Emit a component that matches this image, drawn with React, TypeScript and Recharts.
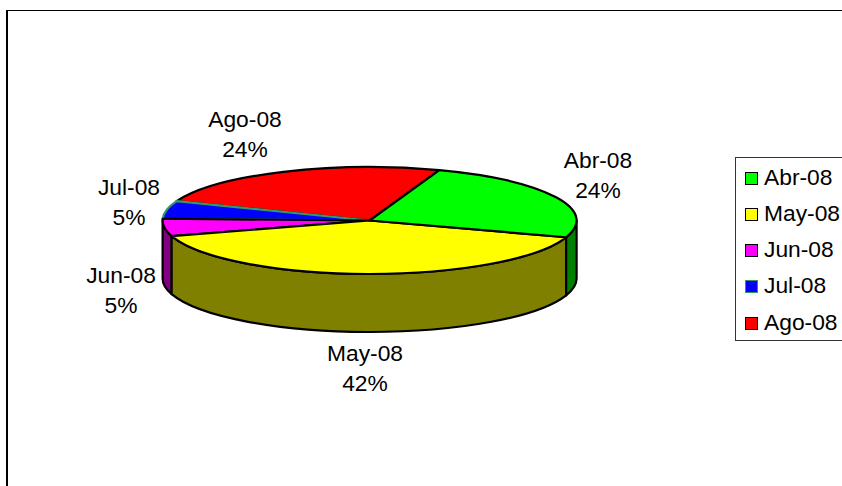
import React from 'react';
import { PieChart, Pie, Legend } from 'recharts';

const months = ['Abr-08', 'May-08', 'Jun-08', 'Jul-08', 'Ago-08'];
// printed percentages
const percentLabels = ['24%', '42%', '5%', '5%', '24%'];
// shares read from the drawn arcs (May is drawn a bit narrower than its 42% label)
const drawnShares = [24.6, 40.2, 5.25, 5.35, 24.6];
const topColors = ['#00ff00', '#ffff00', '#ff00ff', '#0000ff', '#ff0000'];
const wallColors = ['#008000', '#808000', '#800080', '#000080', '#800000'];
const edgeColors = ['#000000', '#000000', '#000000', '#339966', '#000000'];

const WIDTH = 842;
const HEIGHT = 486;
const CX = 369.6;
const CY = 220.5;
const RX = 207;
const RY = 53.5;
const DEPTH = 58;
const FONT = '"Liberation Sans", Arial, sans-serif';
const FONT_SIZE = 22.8;

// label centres, in the same order as months
const labelCenters = [
  [598, 175],
  [365, 368],
  [121, 290],
  [129, 202],
  [245, 134],
];

// the original paints the slices last to first, so Jul's edge stays over Ago's
const sliceData = months
  .map((name, i) => ({
    name,
    value: drawnShares[i],
    percent: percentLabels[i],
    fill: topColors[i],
    wall: wallColors[i],
    edge: edgeColors[i],
    labelAt: labelCenters[i],
  }))
  .reverse();

const rad = (deg: number) => (deg * Math.PI) / 180;
const rimX = (deg: number) => CX + RX * Math.cos(rad(deg));
const rimY = (deg: number) => CY - RY * Math.sin(rad(deg));

const TopSlice = (props: any) => {
  const a = Math.min(props.startAngle, props.endAngle);
  const b = Math.max(props.startAngle, props.endAngle);
  const large = b - a > 180 ? 1 : 0;
  const d = `M${CX},${CY} L${rimX(a)},${rimY(a)} A${RX},${RY} 0 ${large} 0 ${rimX(b)},${rimY(b)} Z`;
  return <path d={d} fill={props.fill} stroke={props.payload?.edge ?? props.edge} strokeWidth={2.2} strokeLinejoin="round" />;
};

// side wall: only the part of a slice's arc on the front half of the rim
const WallSlice = (props: any) => {
  const lo = Math.min(props.startAngle, props.endAngle);
  const hi = Math.max(props.startAngle, props.endAngle);
  const ranges = [
    [Math.max(lo, 180), Math.min(hi, 360)],
    [Math.max(lo, 540), Math.min(hi, 720)],
    [Math.max(lo, -180), Math.min(hi, 0)],
  ].filter(([p, q]) => q > p);
  return (
    <g>
      {ranges.map(([p, q], i) => (
        <path
          key={i}
          d={`M${rimX(p)},${rimY(p)} A${RX},${RY} 0 0 0 ${rimX(q)},${rimY(q)} L${rimX(q)},${rimY(q) + DEPTH} A${RX},${RY} 0 0 1 ${rimX(p)},${rimY(p) + DEPTH} Z`}
          fill={props.payload?.wall ?? props.wall}
          stroke="#000"
          strokeWidth={2.2}
          strokeLinejoin="round"
        />
      ))}
    </g>
  );
};

const SliceLabel = (props: any) => {
  const entry = props.payload ?? props;
  const [x, y] = entry.labelAt;
  return (
    <text x={x} textAnchor="middle" fontFamily={FONT} fontSize={FONT_SIZE} fill="#000">
      <tspan x={x} y={y - 7}>{entry.name}</tspan>
      <tspan x={x} y={y + 23}>{entry.percent}</tspan>
    </text>
  );
};

const LegendBox = () => (
  <div style={{ width: 120, height: 184, border: '1px solid #333', background: '#fff', boxSizing: 'border-box', position: 'relative', fontFamily: FONT, fontSize: FONT_SIZE, color: '#000' }}>
    {months.map((m, i) => (
      <div key={m} style={{ position: 'absolute', left: 9, top: 3.5 + i * 36.3, height: 30, lineHeight: '30px', whiteSpace: 'nowrap' }}>
        <span style={{ display: 'inline-block', width: 13, height: 13, boxSizing: 'border-box', background: topColors[i], border: `1.5px solid ${edgeColors[i]}`, marginRight: 6 }} />
        {m}
      </div>
    ))}
  </div>
);

export default function App() {
  return (
    <div style={{ position: 'absolute', left: 0, top: 0, width: WIDTH, height: HEIGHT, overflow: 'hidden', background: '#fff' }}>
      <div style={{ position: 'absolute', left: 6, top: 10, width: 900, height: 600, borderLeft: '2px solid #000', borderTop: '1.5px solid #000' }} />
      <PieChart width={WIDTH} height={HEIGHT} margin={{ top: 0, right: 0, bottom: 0, left: 0 }} style={{ position: 'absolute', left: 0, top: 0 }}>
        <Pie
          data={sliceData}
          dataKey="value"
          nameKey="name"
          cx={CX}
          cy={CY}
          outerRadius={RX}
          startAngle={70.3}
          endAngle={430.3}
          shape={WallSlice}
          isAnimationActive={false}
          legendType="none"
        />
        <Pie
          data={sliceData}
          dataKey="value"
          nameKey="name"
          cx={CX}
          cy={CY}
          outerRadius={RX}
          startAngle={70.3}
          endAngle={430.3}
          shape={TopSlice}
          label={SliceLabel}
          labelLine={false}
          isAnimationActive={false}
        />
        <Legend content={LegendBox} layout="vertical" wrapperStyle={{ left: 735, top: 157, width: 120 }} />
      </PieChart>
    </div>
  );
}
